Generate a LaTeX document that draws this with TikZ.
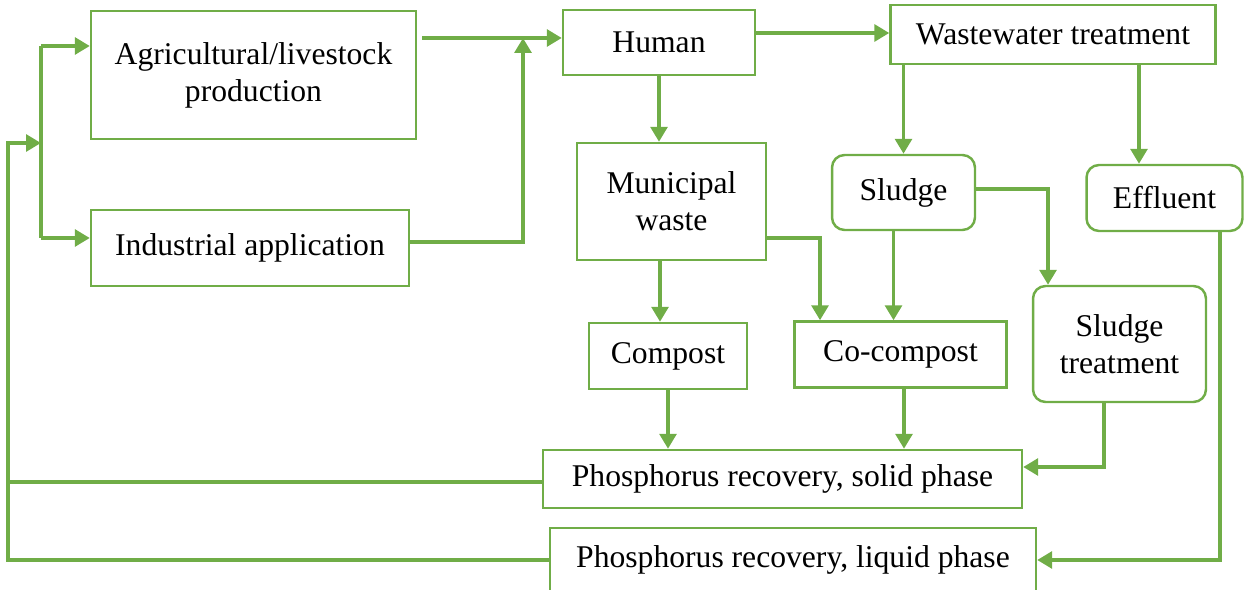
\documentclass[tikz,border=0pt]{standalone}
\usepackage{fontspec}
\setmainfont{Liberation Serif}
\usepackage{tikz}
\usetikzlibrary{calc, arrows.meta, positioning}
\definecolor{leaf}{RGB}{112,173,71}

\begin{document}
\begin{tikzpicture}[x=0.02cm, y=-0.02cm,
        box/.style={draw=leaf, line width=1.4pt, align=center, inner sep=2pt,
            font=\fontsize{18}{21}\selectfont},
        soft/.style={box, rounded corners=0.25cm},
        link/.style={draw=leaf, line width=2.1pt},
        flow/.style={link, -{Triangle[length=8.5pt,width=9.5pt]}}]
                \useasboundingbox (0,0) rectangle (1247,590);
                \node[box, minimum width=6.5cm, minimum height=2.56cm] (agri) at (253.5,75) {Agricultural/livestock\\production};
                \node[box, minimum width=6.36cm, minimum height=1.52cm] (indus) at (250,248) {Industrial application};
                \node[box, minimum width=3.84cm, minimum height=1.3cm] (human) at (659,42.5) {Human};
                \node[box, minimum width=6.5cm, minimum height=1.18cm] (wwt) at (1053,34.5) {Wastewater treatment};
                \node[box, minimum width=3.78cm, minimum height=2.34cm] (muni) at (671.5,201.5) {Municipal\\waste};
                \node[soft, minimum width=2.86cm, minimum height=1.5cm] (sludge) at (903.5,192.5) {Sludge};
                \node[soft, minimum width=3.12cm, minimum height=1.32cm] (effl) at (1164.5,198) {Effluent};
                \node[box, minimum width=3.16cm, minimum height=1.32cm] (compost) at (668,356) {Compost};
                \node[box, minimum width=4.24cm, minimum height=1.32cm] (cocomp) at (900.5,354.5) {Co-compost};
                \node[soft, minimum width=3.46cm, minimum height=2.32cm] (sltreat) at (1119.5,344) {Sludge\\treatment};
                \node[box, minimum width=9.58cm, minimum height=1.16cm] (psolid) at (782.5,479) {Phosphorus recovery, solid phase};
                \node[box, minimum width=9.72cm, minimum height=1.28cm] (pliquid) at (793,560) {Phosphorus recovery, liquid phase};

                \coordinate (merge) at (523,38);
                \coordinate (lt) at (41,46);
                \coordinate (lb) at (41,238);
                \coordinate (back) at (8,143);

                % production side
                \draw[flow] ([xshift=3pt]agri.east |- merge) -- (merge -| human.west);
                \draw[flow] ([yshift=0.12cm]indus.east) -| (merge);
                \draw[link] (lt) -- (lb);
                \draw[flow] (lt) -- (lt -| agri.west);
                \draw[flow] (lb) -- (lb -| indus.west);
                \draw[flow] ([yshift=-0.06cm]psolid.west) -| (back) -- (back -| lt);
                \draw[link] (pliquid.west) -| (back);

                % waste streams
                \draw[flow] ([yshift=0.03cm]human.east |- wwt.west) -- ([yshift=0.03cm]wwt.west);
                \draw[flow] (human.south) -- (human.south |- muni.north);
                \draw[flow] (sludge.north |- wwt.south) -- (sludge.north);
                \draw[flow] ([xshift=1.72cm]wwt.south) -- ([xshift=1.72cm]wwt.south |- effl.north);
                \draw[flow] ([yshift=0.07cm]sludge.east) -| ([xshift=-1.43cm]sltreat.north);
                \draw[flow] ([xshift=-0.2cm]sludge.south) -- ([xshift=-0.2cm]sludge.south |- cocomp.north);
                \draw[flow] ([yshift=-0.73cm]muni.east) -| ([xshift=-1.61cm]cocomp.north);
                \draw[flow] ([xshift=-0.23cm]muni.south) -- ([xshift=-0.23cm]muni.south |- compost.north);

                % recovery
                \draw[flow] (compost.south) -- (compost.south |- psolid.north);
                \draw[flow] ([xshift=0.07cm]cocomp.south) -- ([xshift=0.07cm]cocomp.south |- psolid.north);
                \draw[flow] ([xshift=-0.31cm]sltreat.south) |- ([yshift=0.24cm]psolid.east);
                \draw[flow] ([xshift=1.11cm]effl.south) |- (pliquid.east);
            \end{tikzpicture}
\end{document}
